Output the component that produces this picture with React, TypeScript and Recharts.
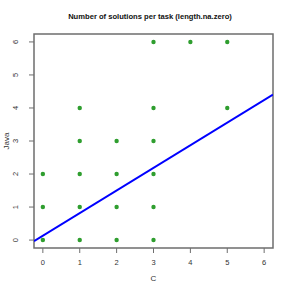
import {
  ScatterChart,
  Scatter,
  XAxis,
  YAxis,
  ReferenceLine,
  ReferenceArea,
} from 'recharts'

// Number of solutions per task: C (x) vs Java (y)
const cCounts = [0, 0, 0, 1, 1, 1, 1, 1, 2, 2, 2, 2, 3, 3, 3, 3, 3, 3, 4, 5, 5]
const javaCounts = [0, 1, 2, 0, 1, 2, 3, 4, 0, 1, 2, 3, 0, 1, 2, 3, 4, 6, 6, 6, 4]
const axisTicks = [0, 1, 2, 3, 4, 5, 6]

// fitted line (intercept, slope)
const fitIntercept = 0.134
const fitSlope = 0.684

const domainMin = -0.24
const domainMax = 6.24

const points = cCounts.map((c, i) => ({ c, java: javaCounts[i] }))

const FONT = 'Liberation Sans, Arial, sans-serif'
const BOX = '#6e6e6e'
const TXT = '#333333'

const XTick = ({ x, y, payload }: any) => (
  <g>
    <line x1={x} y1={y - 8} x2={x} y2={y - 3} stroke={BOX} strokeWidth={1} />
    <text x={x} y={y + 9} textAnchor="middle" fontSize={7.5} fill={TXT} fontFamily={FONT}>
      {payload.value}
    </text>
  </g>
)

const YTick = ({ x, y, payload }: any) => (
  <g>
    <line x1={x + 3} y1={y} x2={x + 8} y2={y} stroke={BOX} strokeWidth={1} />
    <text
      x={x - 8}
      y={y}
      textAnchor="middle"
      fontSize={7.5}
      fill={TXT}
      fontFamily={FONT}
      transform={`rotate(-90, ${x - 8}, ${y})`}
    >
      {payload.value}
    </text>
  </g>
)

const JavaLabel = ({ viewBox }: any) => {
  const cy = viewBox.y + viewBox.height / 2
  return (
    <text
      x={9}
      y={cy}
      textAnchor="middle"
      fontSize={8}
      fill={TXT}
      fontFamily={FONT}
      transform={`rotate(-90, 9, ${cy})`}
    >
      Java
    </text>
  )
}

export default function App() {
  return (
    <div style={{ position: 'absolute', left: 0, top: 0, width: 291, height: 291, background: '#fff', fontFamily: FONT }}>
      <div style={{
        position: 'absolute', top: 12, left: 0, width: 300, textAlign: 'center',
        fontSize: 7.6, fontWeight: 700, color: '#111',
      }}>
        Number of solutions per task (length.na.zero)
      </div>
      <ScatterChart width={291} height={291} margin={{ top: 34, right: 18, bottom: 0, left: 0 }}>
        <XAxis
          type="number"
          dataKey="c"
          domain={[domainMin, domainMax]}
          ticks={axisTicks}
          allowDataOverflow
          axisLine={false}
          tickLine={false}
          height={43}
          tick={<XTick />}
          label={{ value: 'C', position: 'insideBottom', offset: 10, fontSize: 8, fill: TXT, fontFamily: FONT }}
        />
        <YAxis
          type="number"
          dataKey="java"
          domain={[domainMin, domainMax]}
          ticks={axisTicks}
          allowDataOverflow
          axisLine={false}
          tickLine={false}
          width={34}
          tick={<YTick />}
          label={<JavaLabel />}
        />
        <ReferenceArea
          x1={domainMin}
          x2={domainMax}
          y1={domainMin}
          y2={domainMax}
          fill="none"
          stroke={BOX}
          strokeWidth={1.5}
          ifOverflow="visible"
        />
        <Scatter
          data={points}
          fill="#2f9e2f"
          isAnimationActive={false}
          shape={(p: any) => <circle cx={p.cx} cy={p.cy} r={2.2} fill="#2f9e2f" />}
        />
        <ReferenceLine
          segment={[
            { x: domainMin, y: fitIntercept + fitSlope * domainMin },
            { x: domainMax, y: fitIntercept + fitSlope * domainMax },
          ]}
          stroke="#0000ff"
          strokeWidth={2}
          ifOverflow="hidden"
        />
      </ScatterChart>
    </div>
  )
}
